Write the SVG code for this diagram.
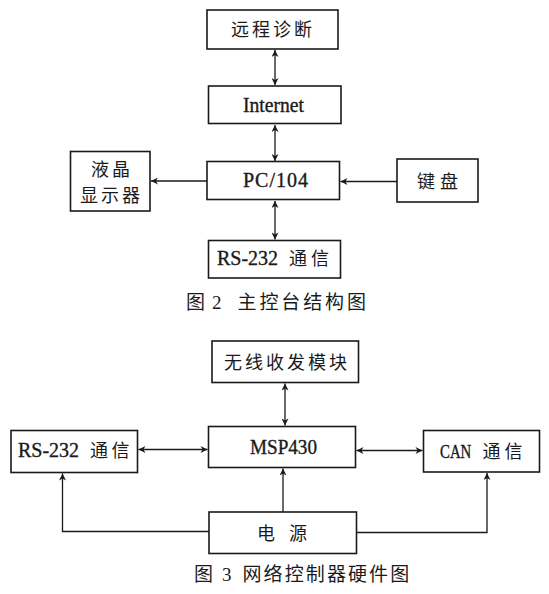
<svg xmlns="http://www.w3.org/2000/svg" width="549" height="594" viewBox="0 0 549 594">
<defs>
<style>
.box{fill:#fff;stroke:#1a1a1a;stroke-width:1.6}
.ln{fill:none;stroke:#1a1a1a;stroke-width:1.3}
.cjk{font-family:"Noto Sans CJK SC","Liberation Serif",serif;font-size:18px;fill:#1a1a1a;letter-spacing:3px}
.lat{font-family:"Liberation Serif","Noto Sans CJK SC",serif;font-size:20px;fill:#1a1a1a;stroke:#1a1a1a;stroke-width:0.35}
.cap{font-family:"Noto Sans CJK SC","Liberation Serif",serif;font-size:19px;fill:#1a1a1a}
</style>
<marker id="ah" viewBox="0 0 10 10" refX="10" refY="5" markerWidth="9" markerHeight="7" markerUnits="userSpaceOnUse" orient="auto-start-reverse">
<path d="M0,0 L10,5 L0,10 L3,5 z" fill="#1a1a1a"/>
</marker>
</defs>
<rect width="549" height="594" fill="#fff"/>

<g id="connectors">
<line class="ln" x1="275" y1="50" x2="275" y2="85" marker-start="url(#ah)" marker-end="url(#ah)"/>
<line class="ln" x1="275" y1="125" x2="275" y2="161" marker-start="url(#ah)" marker-end="url(#ah)"/>
<line class="ln" x1="275" y1="201" x2="275" y2="239.5" marker-start="url(#ah)" marker-end="url(#ah)"/>
<line class="ln" x1="207" y1="181" x2="151" y2="181" marker-end="url(#ah)"/>
<line class="ln" x1="397" y1="181.5" x2="340.5" y2="181.5" marker-end="url(#ah)"/>
<line class="ln" x1="285" y1="383.5" x2="285" y2="425.5" marker-start="url(#ah)" marker-end="url(#ah)"/>
<line class="ln" x1="138.5" y1="449.5" x2="207.5" y2="449.5" marker-start="url(#ah)" marker-end="url(#ah)"/>
<line class="ln" x1="356.5" y1="450.5" x2="422.5" y2="450.5" marker-start="url(#ah)" marker-end="url(#ah)"/>
<line class="ln" x1="283" y1="512" x2="283" y2="468.5" marker-end="url(#ah)"/>
<polyline class="ln" points="209,531.5 62.5,531.5 62.5,473.5" marker-end="url(#ah)"/>
<polyline class="ln" points="356.5,532.5 487,532.5 487,473" marker-end="url(#ah)"/>
</g>

<g id="n-remote">
<rect class="box" x="207" y="10" width="131" height="39"/>
<text class="cjk" x="231" y="36">远程诊断</text>
</g>
<g id="n-internet">
<rect class="box" x="208.5" y="86" width="132.5" height="37.5"/>
<text class="lat" x="243" y="111.5" textLength="61" lengthAdjust="spacingAndGlyphs">Internet</text>
</g>
<g id="n-pc104">
<rect class="box" x="207" y="161.5" width="132.5" height="38"/>
<text class="lat" x="243" y="187" textLength="65" lengthAdjust="spacing">PC/104</text>
</g>
<g id="n-rs232-top">
<rect class="box" x="208.5" y="240.5" width="132" height="37.5"/>
<text class="lat" y="265"><tspan x="217">RS-232 </tspan><tspan class="cjk" x="289" style="letter-spacing:4px;stroke:none">通信</tspan></text>
</g>
<g id="n-lcd">
<rect class="box" x="70.5" y="151.5" width="79.5" height="59.5"/>
<text class="cjk"><tspan x="91" y="175.6">液晶</tspan><tspan x="80" y="201.6">显示器</tspan></text>
</g>
<g id="n-keyboard">
<rect class="box" x="397" y="159" width="81" height="43"/>
<text class="cjk" x="417" y="188" style="letter-spacing:5px">键盘</text>
</g>

<g id="caption-2">
<text class="cap" y="309"><tspan x="186">图</tspan><tspan class="lat" x="212" style="font-size:19px;stroke:none">2 </tspan><tspan x="237.5" style="letter-spacing:2.9px">主控台结构图</tspan></text>
</g>

<g id="n-wireless">
<rect class="box" x="212" y="341" width="146.5" height="41.5"/>
<text class="cjk" x="224" y="369">无线收发模块</text>
</g>
<g id="n-msp430">
<rect class="box" x="208.5" y="426.5" width="147" height="41"/>
<text class="lat" x="250" y="453.5" textLength="67" lengthAdjust="spacingAndGlyphs">MSP430</text>
</g>
<g id="n-rs232-bottom">
<rect class="box" x="11" y="430.5" width="126.5" height="42"/>
<text class="lat" y="457"><tspan x="18">RS-232 </tspan><tspan class="cjk" x="90" style="letter-spacing:3.5px;stroke:none">通信</tspan></text>
</g>
<g id="n-can">
<rect class="box" x="423.5" y="430.5" width="116" height="41.5"/>
<text class="lat" y="458"><tspan x="440" textLength="35" lengthAdjust="spacingAndGlyphs" style="font-size:18px">CAN </tspan><tspan class="cjk" x="482.5" style="letter-spacing:4px;stroke:none">通信</tspan></text>
</g>
<g id="n-power">
<rect class="box" x="209" y="512" width="147.5" height="41.5"/>
<text class="cjk" x="257" y="540" style="letter-spacing:14px">电源</text>
</g>

<g id="caption-3">
<text class="cap" y="581"><tspan x="194">图</tspan><tspan class="lat" x="222" style="font-size:19px;stroke:none">3 </tspan><tspan x="242.5" style="letter-spacing:2.1px">网络控制器硬件图</tspan></text>
</g>
</svg>
